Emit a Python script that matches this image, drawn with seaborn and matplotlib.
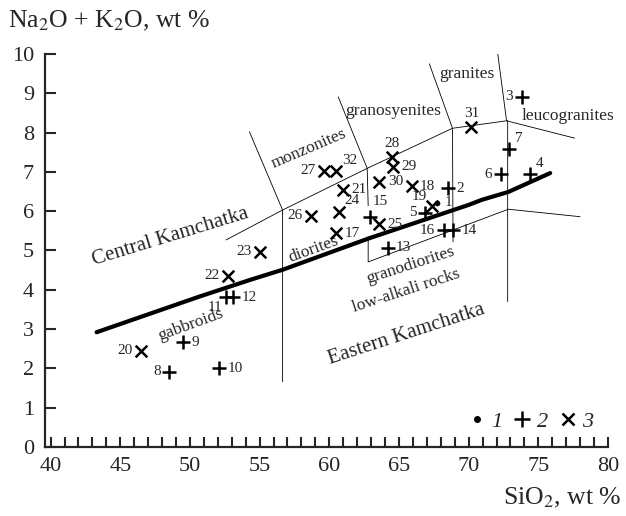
import numpy as np
import pandas as pd
import matplotlib
matplotlib.use('Agg')
import matplotlib.pyplot as plt
from matplotlib.ticker import MultipleLocator
from matplotlib.lines import Line2D
import seaborn as sns

# 样品编号、SiO2、Na2O+K2O、符号组
nums = list(range(1, 33))
sio2 = [67.7, 68.5, 73.8, 74.4, 66.9, 72.3, 72.9, 48.5, 49.5, 52.1,
        52.6, 53.1, 64.2, 68.9, 62.9, 68.2, 60.5, 65.9, 67.4, 46.5,
        61.0, 52.7, 55.0, 60.7, 63.6, 58.7, 59.6, 64.5, 64.6, 63.6,
        70.2, 60.5]
alk = [6.22, 6.59, 8.91, 6.94, 5.96, 6.94, 7.58, 1.92, 2.66, 2.01,
       3.81, 3.81, 5.07, 5.51, 5.84, 5.52, 5.44, 6.64, 6.14, 2.45,
       6.54, 4.36, 4.97, 5.99, 5.67, 5.88, 7.03, 7.39, 7.13, 6.75,
       8.14, 7.03]
group = ['1'] + ['2'] * 15 + ['3'] * 16

# 粗线: 中堪察加/东堪察加分界
div_x = [43.3, 50.7, 54.3, 56.65, 62.85, 70.0, 70.95, 72.85, 75.85]
div_y = [2.92, 3.83, 4.25, 4.51, 5.31, 6.16, 6.29, 6.49, 6.97]

# 细线: 岩石分类边界
bounds = [
    ([52.6, 56.65, 62.72, 68.84, 72.72, 77.6], [5.27, 6.03, 7.09, 8.11, 8.30, 7.86]),
    ([54.27, 56.65, 56.65], [8.02, 6.03, 1.66]),
    ([60.64, 62.72, 62.79], [8.91, 7.09, 6.14]),
    ([62.79, 62.79, 72.85, 78.0], [5.35, 4.71, 6.05, 5.86]),
    ([67.18, 68.84, 68.88], [9.75, 8.11, 5.22]),
    ([72.08, 72.72, 72.8, 72.8], [10.03, 8.30, 8.30, 3.70]),
]

# 区域文字 (x, y, 角度, 字号)
fields = [
    ('Central Kamchatka', 48.6, 5.35, 17, 15),
    ('Eastern Kamchatka', 65.55, 2.86, 18, 15),
    ('diorites', 58.85, 5.02, 20, 12.5),
    ('gabbroids', 50.05, 3.11, 20, 12.5),
    ('granodiorites', 65.85, 4.63, 18, 12.5),
    ('low-alkali rocks', 65.55, 3.97, 18, 12.5),
    ('monzonites', 58.55, 7.58, 23, 12.5),
    ('granosyenites', 64.6, 8.54, 0, 12.5),
    ('granites', 69.85, 9.49, 0, 12.5),
    ('leucogranites', 77.1, 8.42, 0, 12.5),
]

# 编号标注位置
pos = ['r', 'r', 'l', 'ru', 'l', 'l', 'ru', 'l', 'r', 'r',
       'ld', 'r', 'r', 'r', 'up', 'l', 'r', 'r', 'lu', 'l',
       'r', 'l', 'l', 'ru', 'r', 'l', 'l', 'u', 'r', 'r',
       'u', 'ru']
offs = {
    'r': (6, 0, 'left', 'center'),
    'l': (-6, 0, 'right', 'center'),
    'ru': (4, 3, 'left', 'bottom'),
    'lu': (-4, 2, 'right', 'bottom'),
    'ld': (-3, -3, 'right', 'top'),
    'u': (0, 5, 'center', 'bottom'),
    'up': (2, 7, 'left', 'bottom'),
}

df = pd.DataFrame({'SiO2': sio2, 'alk': alk, 'group': group, 'num': nums})

sns.set_style('ticks')
plt.rcParams['font.family'] = ['Liberation Serif', 'DejaVu Serif']
plt.rcParams['mathtext.fontset'] = 'stix'

fig = plt.figure(figsize=(6.26, 5.16), dpi=100)
ax = fig.add_axes([45 / 626, 1 - 447 / 516, 563 / 626, 393 / 516])

for xs, ys in bounds:
    ax.plot(xs, ys, color='k', lw=0.6)

sns.lineplot(x=div_x, y=div_y, color='k', lw=3, sort=False, estimator=None, ax=ax)

sns.scatterplot(data=df[df.group == '1'], x='SiO2', y='alk', marker='o', s=14,
                color='k', edgecolor='k', ax=ax, legend=False, zorder=3)
sns.scatterplot(data=df[df.group == '2'], x='SiO2', y='alk', marker='+', s=110,
                color='k', linewidth=1.8, ax=ax, legend=False, zorder=3)
sns.scatterplot(data=df[df.group == '3'], x='SiO2', y='alk', marker='x', s=70,
                color='k', linewidth=1.8, ax=ax, legend=False, zorder=3)

for (_, r), p in zip(df.iterrows(), pos):
    dx, dy, ha, va = offs[p]
    ax.annotate(str(r.num), (r.SiO2, r.alk), xytext=(dx, dy), textcoords='offset points',
                ha=ha, va=va, fontsize=11)

for txt, x, y, rot, fs in fields:
    ax.text(x, y, txt, rotation=rot, ha='center', va='center', fontsize=fs,
            rotation_mode='anchor')

ax.set_xlim(39.6, 80.0)
ax.set_ylim(0, 10)
ax.xaxis.set_major_locator(MultipleLocator(5))
ax.xaxis.set_minor_locator(MultipleLocator(1))
ax.yaxis.set_major_locator(MultipleLocator(1))
ax.tick_params(axis='both', which='both', direction='in', width=1.5, labelsize=16)
ax.tick_params(axis='x', which='both', length=7, pad=7)
ax.tick_params(axis='y', length=8, pad=8)
sns.despine(ax=ax)
for s in ['left', 'bottom']:
    ax.spines[s].set_linewidth(1.6)
ax.set_xlabel('')
ax.set_ylabel('')

fig.text(8 / 626, 1 - 21 / 516, r'Na$_2$O + K$_2$O, wt %', fontsize=18.5, ha='left', va='center')
fig.text(621 / 626, 1 - 498 / 516, r'SiO$_2$, wt %', fontsize=18.5, ha='right', va='center')

handles = [Line2D([], [], ls='', marker='o', ms=4, color='k'),
           Line2D([], [], ls='', marker='+', ms=11, mew=1.8, color='k'),
           Line2D([], [], ls='', marker='x', ms=8, mew=1.8, color='k')]
leg = ax.legend(handles, ['1', '2', '3'], loc='lower right', bbox_to_anchor=(0.99, 0.015),
                borderaxespad=0, ncol=3, frameon=False, handlelength=0.7, handletextpad=0.3,
                columnspacing=0.55, prop={'style': 'italic', 'size': 16})

fig.savefig('out.png', dpi=100)
